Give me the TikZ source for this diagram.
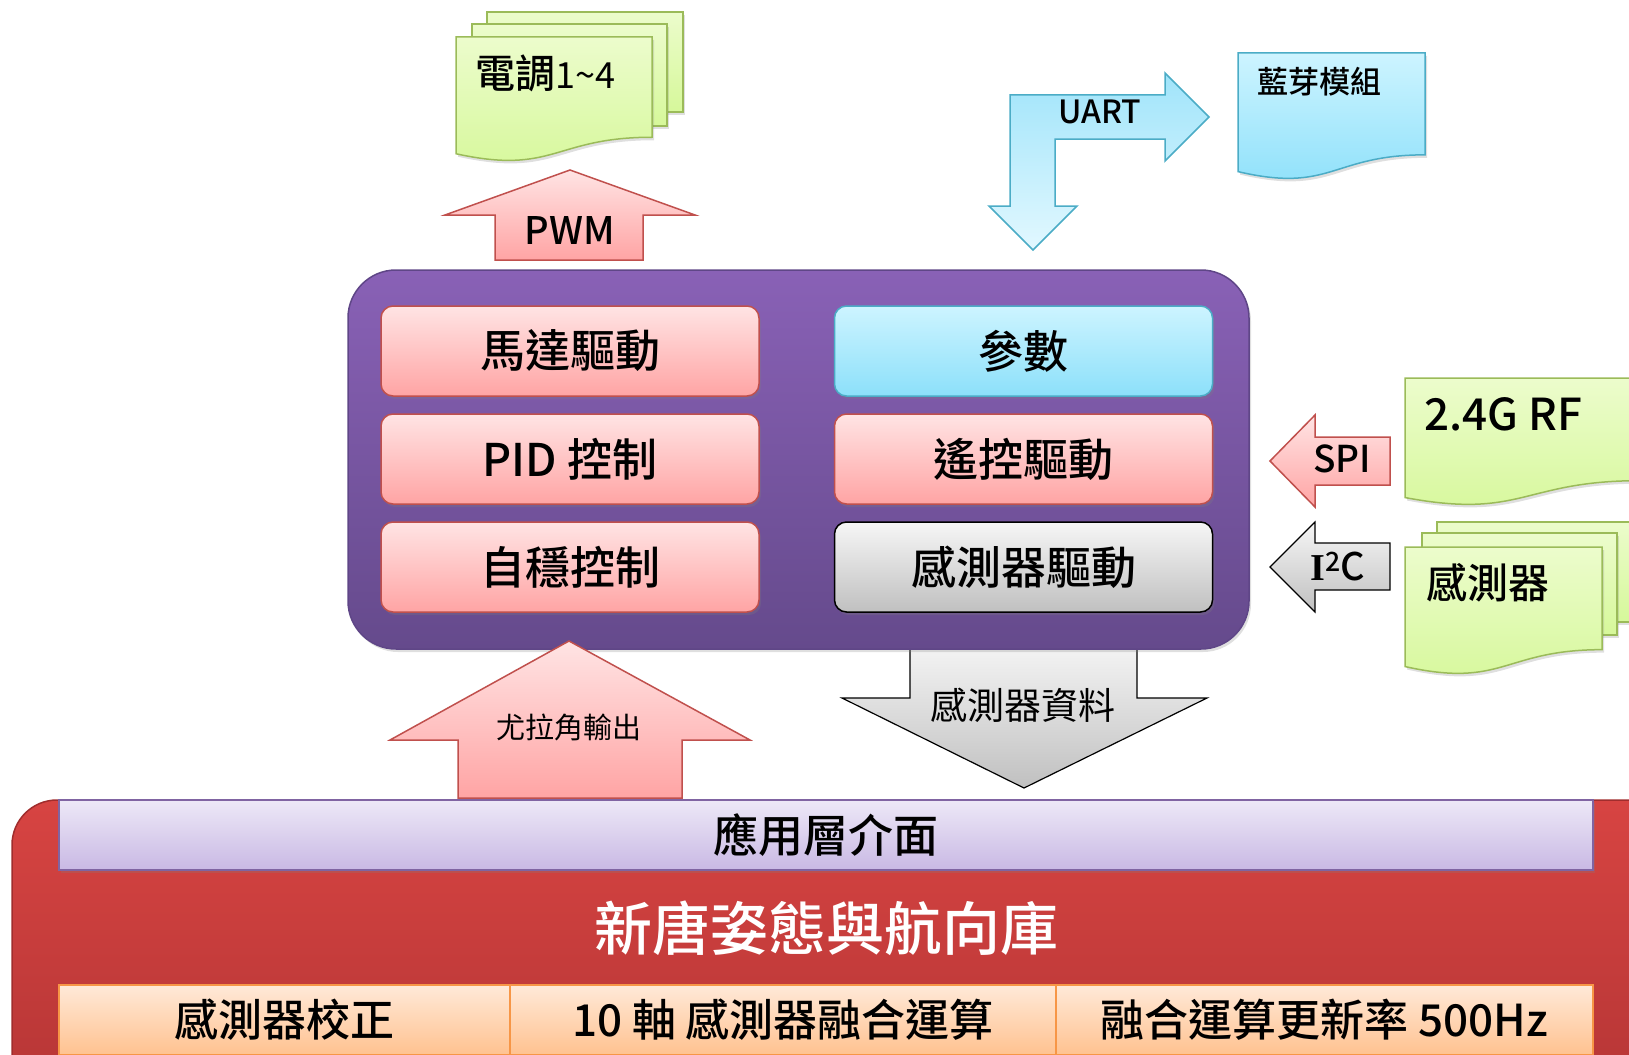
\documentclass[tikz,border=0pt]{standalone}
\usepackage{fontspec}
\setmainfont{Noto Sans CJK TC}[BoldFont={Noto Sans CJK TC Medium}]
\newfontfamily\serifI{Liberation Serif}
\usetikzlibrary{shadows}

% colours of the blocks
\definecolor{pinkTop}{RGB}{255,228,228}
\definecolor{pinkBot}{RGB}{255,164,164}
\definecolor{pinkLine}{RGB}{192,80,77}
\definecolor{cyanTop}{RGB}{205,244,255}
\definecolor{cyanBot}{RGB}{140,224,250}
\definecolor{cyanLine}{RGB}{75,172,198}
\definecolor{greenTop}{RGB}{236,252,204}
\definecolor{greenBot}{RGB}{214,248,154}
\definecolor{greenLine}{RGB}{155,187,89}
\definecolor{grayTop}{RGB}{246,246,246}
\definecolor{grayBot}{RGB}{192,192,192}
\definecolor{purpTop}{RGB}{137,97,182}
\definecolor{purpBot}{RGB}{101,74,140}
\definecolor{redTop}{RGB}{215,68,66}
\definecolor{redBot}{RGB}{178,52,52}
\definecolor{lavTop}{RGB}{237,232,247}
\definecolor{lavBot}{RGB}{201,185,228}
\definecolor{lavLine}{RGB}{128,100,162}
\definecolor{orgTop}{RGB}{255,233,216}
\definecolor{orgBot}{RGB}{255,194,144}
\definecolor{orgLine}{RGB}{247,150,70}

% font size in pt (1pt = 1px of the picture)
\newcommand{\fsz}[1]{\fontsize{#1}{#1}\selectfont\bfseries}
\newcommand{\fszr}[1]{\fontsize{#1}{#1}\selectfont}

% document page with a wavy bottom: style, left, top, right, height
\newcommand{\docpage}[5]{%
  \path[#1] (#2,#3) -- (#4,#3) -- (#4,{#3+0.802*#5})
    .. controls ({(#2+#4)/2},{#3+0.802*#5}) and ({(#2+#4)/2},{#3+1.107*#5})
    .. (#2,{#3+0.934*#5}) -- cycle;}

\tikzset{
  shade/.style={drop shadow={opacity=0.25, shadow xshift=2pt, shadow yshift=-3pt}},
  box/.style={rounded corners=12pt, minimum width=378pt, minimum height=90pt,
    line width=1.5pt, inner sep=0pt, font=\fsz{45}, shade},
  pinkbox/.style={box, draw=pinkLine, top color=pinkTop, bottom color=pinkBot},
  cyanbox/.style={box, draw=cyanLine, top color=cyanTop, bottom color=cyanBot},
  graybox/.style={box, draw=black, top color=grayTop, bottom color=grayBot},
  greendoc/.style={draw=greenLine, line width=1.5pt, top color=greenTop, bottom color=greenBot, shade},
  bluedoc/.style={draw=cyanLine, line width=1.5pt, top color=cyanTop, bottom color=cyanBot, shade},
  pinkarrow/.style={draw=pinkLine, line width=1.5pt, top color=pinkTop, bottom color=pinkBot, line join=miter},
  grayarrow/.style={draw=black, line width=1.2pt, top color=grayTop, bottom color=grayBot, line join=miter},
  cyanarrow/.style={draw=cyanLine, line width=1.5pt, top color={rgb,255:red,160;green,228;blue,250},
    bottom color={rgb,255:red,226;green,248;blue,255}, line join=miter},
  orgbox/.style={draw=orgLine, line width=1.5pt, top color=orgTop, bottom color=orgBot,
    minimum height=70pt, inner sep=0pt, font=\fsz{44}}
}

\begin{document}
\begin{tikzpicture}[x=1pt,y=-1pt]
  \useasboundingbox (0,0) rectangle (1629,1054);
  \clip (0,0) rectangle (1629,1054);

  % --- library block at the bottom ---
  \path[draw={rgb,255:red,160;green,45;blue,45}, line width=1.5pt, top color=redTop, bottom color=redBot,
        rounded corners=45pt] (12,800) rectangle (1700,1130);
  \node[draw=lavLine, line width=1.5pt, top color=lavTop, bottom color=lavBot,
        minimum width=1534pt, minimum height=70pt, inner sep=0pt, font=\fsz{45}, shade]
        (api) at (826,835) {應用層介面};
  \node[text=white, font=\fsz{58}] (lib) at (826,928) {新唐姿態與航向庫};
  \node[orgbox, minimum width=451pt] (calib) at (284.5,1020) {感測器校正};
  \node[orgbox, minimum width=546pt] (fusion) at (783,1020) {10 軸 感測器融合運算};
  \node[orgbox, minimum width=537pt] (rate) at (1324.5,1020) {融合運算更新率 500Hz};

  % --- sensor data goes down (behind the container) ---
  \path[grayarrow] (910,640) -- (1137,640) -- (1137,698) -- (1207,698) -- (1024,788)
        -- (842,698) -- (910,698) -- cycle;
  \node[font=\fszr{37}] (sensdata) at (1023,705) {感測器資料};

  % --- purple container with the six tasks ---
  \path[draw={rgb,255:red,95;green,70;blue,135}, line width=1.5pt, top color=purpTop, bottom color=purpBot,
        rounded corners=48pt, shade] (348,270) rectangle (1249,649);
  \foreach \n/\txt [count=\r] in {motor/馬達驅動, pid/PID 控制, selfstab/自穩控制} {%
    \node[pinkbox] (\n) at (570,{243+108*\r}) {\txt};
  }
  \node[cyanbox] (param) at (1023.5,351) {參數};
  \node[pinkbox] (rcdrv) at (1023.5,459) {遙控驅動};
  \node[graybox] (sensdrv) at (1023.5,567) {感測器驅動};

  % --- euler angles go up ---
  \path[pinkarrow] (458,798) -- (458,740) -- (390,740) -- (569,641) -- (750,740)
        -- (682,740) -- (682,798) -- cycle;
  \node[font=\fszr{29}] (euler) at (569,727) {尤拉角輸出};

  % --- PWM to the ESCs ---
  \path[pinkarrow] (495,260) -- (495,215) -- (445,215) -- (570,170) -- (695,215)
        -- (643,215) -- (643,260) -- cycle;
  \node[font=\fsz{38}] (pwm) at (570,230) {PWM};
  \path[greendoc] (487,12) rectangle (683,112);
  \path[greendoc] (472,24) rectangle (667,126);
  \docpage{greendoc}{456}{37}{652}{125}
  \node[anchor=west, font=\fsz{40}] (esc) at (472,73) {電調{\mdseries\fontsize{36}{36}\selectfont 1\textasciitilde 4}};

  % --- UART to the bluetooth module ---
  \path[cyanarrow] (1010,206) -- (1010,95) -- (1165,95) -- (1165,73) -- (1209,117)
        -- (1165,161) -- (1165,139) -- (1055,139) -- (1055,206) -- (1077,206)
        -- (1033,250) -- (989,206) -- cycle;
  \node[font=\fsz{32}] (uart) at (1100,112) {UART};
  \docpage{bluedoc}{1238}{53}{1425}{127}
  \node[anchor=west, font=\fsz{31}] (bt) at (1254,82) {藍芽模組};

  % --- SPI and I2C from the right ---
  \path[pinkarrow] (1390,437) -- (1315,437) -- (1315,415) -- (1270,461) -- (1315,507)
        -- (1315,485) -- (1390,485) -- cycle;
  \node[font=\fsz{37}] (spi) at (1342,459) {SPI};
  \path[grayarrow] (1390,543) -- (1315,543) -- (1315,522) -- (1270,567) -- (1315,612)
        -- (1315,590) -- (1390,590) -- cycle;
  \node[font=\fsz{38}] (itwoc) at (1338,567) {{\serifI I}\textsuperscript{2}C};

  \docpage{greendoc}{1405}{378}{1640}{128}
  \node[anchor=west, font=\fsz{44}] (rf) at (1421,414) {2.4G RF};
  \path[greendoc] (1437,522) rectangle (1640,622);
  \path[greendoc] (1422,533) rectangle (1617,635);
  \docpage{greendoc}{1405}{547}{1602}{128}
  \node[anchor=west, font=\fsz{41}] (sensor) at (1423,583) {感測器};
\end{tikzpicture}
\end{document}
